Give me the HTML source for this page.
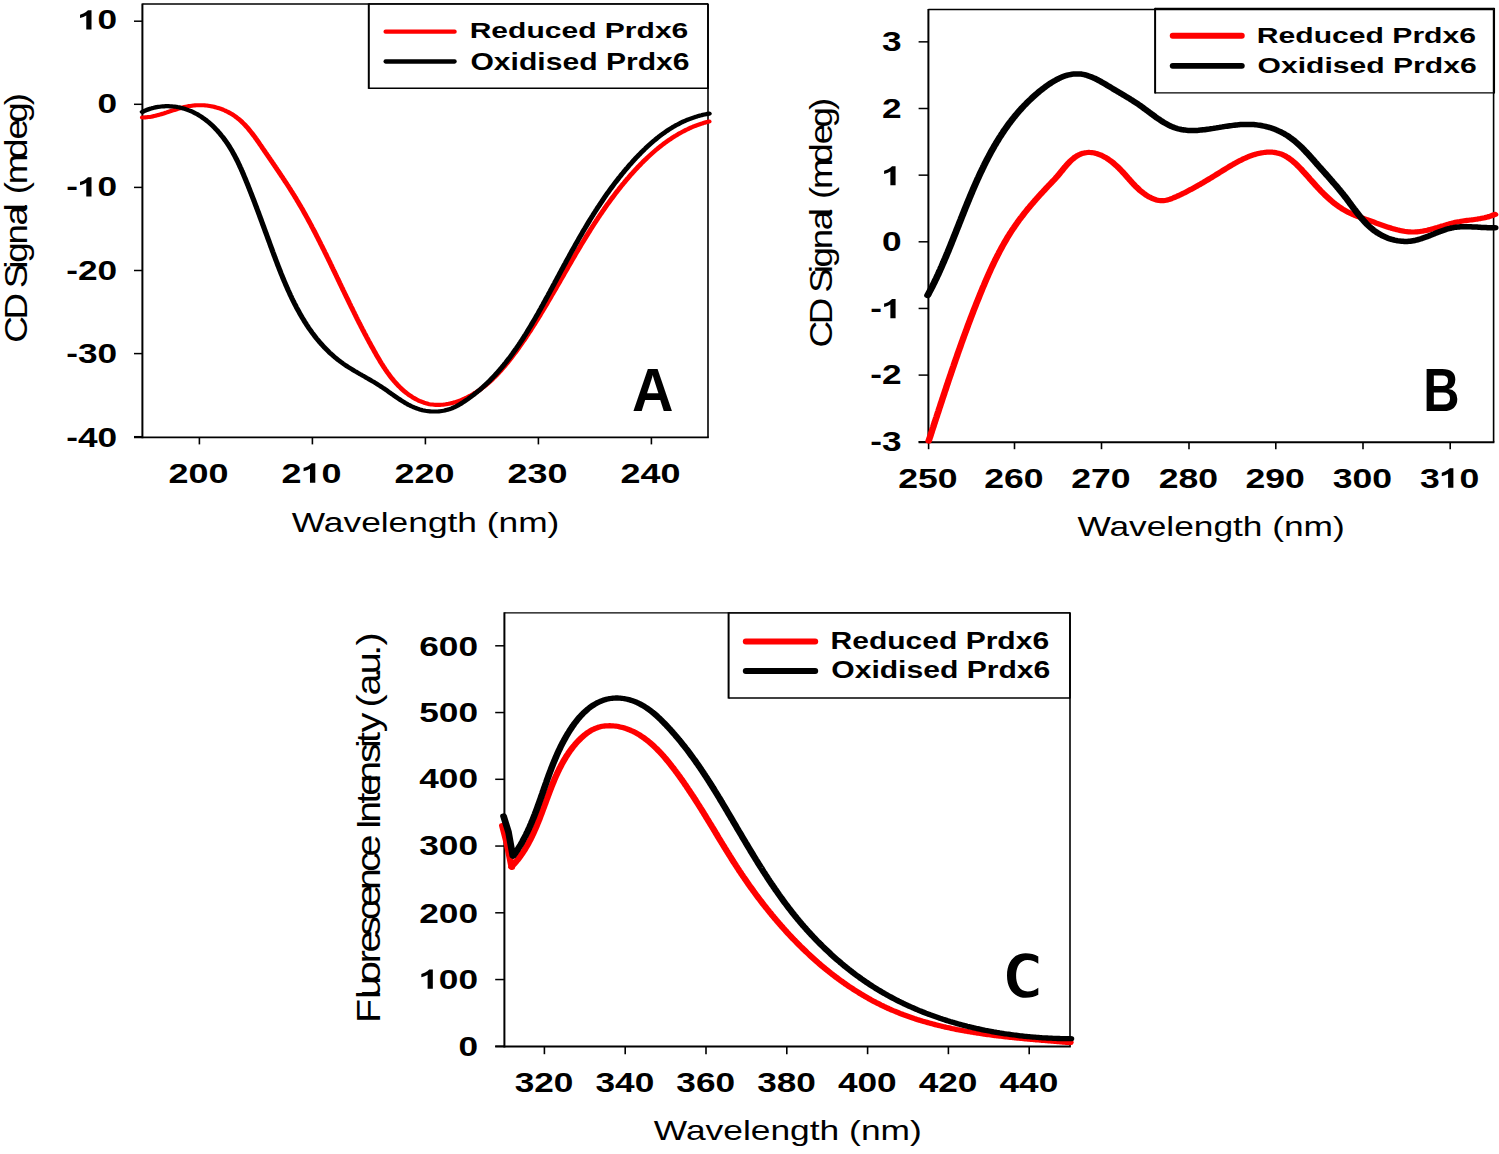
<!DOCTYPE html><html><head><meta charset="utf-8"><style>html,body{margin:0;padding:0;background:#fff;}svg{display:block}</style></head><body>
<svg width="1499" height="1154" viewBox="0 0 1499 1154">
<rect width="1499" height="1154" fill="#fff"/>
<line x1="142.4" y1="4" x2="708" y2="4" stroke="#000" stroke-width="1.3"/>
<line x1="708" y1="4" x2="708" y2="437.4" stroke="#000" stroke-width="1.6"/>
<line x1="142.4" y1="3.4" x2="142.4" y2="438.3" stroke="#000" stroke-width="2.0"/>
<line x1="134" y1="437.4" x2="708.8" y2="437.4" stroke="#000" stroke-width="1.9"/>
<line x1="134" y1="21.2" x2="142.4" y2="21.2" stroke="#000" stroke-width="1.5"/>
<line x1="134" y1="104.3" x2="142.4" y2="104.3" stroke="#000" stroke-width="1.5"/>
<line x1="134" y1="187.4" x2="142.4" y2="187.4" stroke="#000" stroke-width="1.5"/>
<line x1="134" y1="270.5" x2="142.4" y2="270.5" stroke="#000" stroke-width="1.5"/>
<line x1="134" y1="353.6" x2="142.4" y2="353.6" stroke="#000" stroke-width="1.5"/>
<line x1="134" y1="436.7" x2="142.4" y2="436.7" stroke="#000" stroke-width="1.5"/>
<line x1="199.4" y1="437.4" x2="199.4" y2="444.4" stroke="#000" stroke-width="1.6"/>
<line x1="312.4" y1="437.4" x2="312.4" y2="444.4" stroke="#000" stroke-width="1.6"/>
<line x1="425.4" y1="437.4" x2="425.4" y2="444.4" stroke="#000" stroke-width="1.6"/>
<line x1="538.4" y1="437.4" x2="538.4" y2="444.4" stroke="#000" stroke-width="1.6"/>
<line x1="651.4" y1="437.4" x2="651.4" y2="444.4" stroke="#000" stroke-width="1.6"/>
<path transform="scale(1.27,1)" d="M112.17,117.5 L113.30,117.5 L114.43,117.4 L115.56,117.3 L116.69,117.1 L117.82,116.9 L118.95,116.7 L120.08,116.4 L121.21,116.1 L122.34,115.8 L123.47,115.4 L124.60,115.0 L125.74,114.6 L126.87,114.2 L128.01,113.8 L129.15,113.3 L130.29,112.8 L131.43,112.4 L132.57,111.9 L133.72,111.4 L134.86,110.9 L136.01,110.4 L137.16,110.0 L138.32,109.5 L139.47,109.0 L140.63,108.6 L141.79,108.2 L142.95,107.8 L144.11,107.4 L145.27,107.0 L146.44,106.7 L147.60,106.4 L148.77,106.1 L149.94,105.9 L151.11,105.7 L152.28,105.5 L153.45,105.4 L154.62,105.3 L155.79,105.2 L156.96,105.2 L158.13,105.2 L159.29,105.3 L160.45,105.3 L161.61,105.4 L162.77,105.6 L163.92,105.8 L165.06,106.0 L166.20,106.2 L167.33,106.5 L168.46,106.8 L169.58,107.2 L170.69,107.6 L171.79,108.0 L172.88,108.4 L173.97,108.9 L175.04,109.4 L176.11,110.0 L177.16,110.5 L178.20,111.2 L179.23,111.8 L180.25,112.5 L181.26,113.2 L182.25,113.9 L183.23,114.7 L184.19,115.5 L185.14,116.3 L186.07,117.2 L186.98,118.1 L187.88,119.0 L188.77,119.9 L189.64,120.9 L190.49,121.9 L191.33,123.0 L192.15,124.0 L192.97,125.1 L193.77,126.2 L194.56,127.3 L195.34,128.4 L196.10,129.6 L196.86,130.8 L197.61,132.0 L198.35,133.2 L199.08,134.4 L199.81,135.6 L200.53,136.8 L201.24,138.1 L201.94,139.3 L202.64,140.6 L203.34,141.8 L204.04,143.1 L204.73,144.4 L205.41,145.6 L206.10,146.9 L206.79,148.2 L207.47,149.4 L208.15,150.7 L208.84,152.0 L209.52,153.2 L210.20,154.5 L210.88,155.7 L211.56,157.0 L212.23,158.2 L212.91,159.5 L213.58,160.7 L214.26,162.0 L214.93,163.2 L215.60,164.5 L216.27,165.7 L216.94,167.0 L217.60,168.2 L218.27,169.5 L218.93,170.7 L219.59,171.9 L220.25,173.2 L220.90,174.4 L221.56,175.7 L222.21,176.9 L222.86,178.2 L223.51,179.4 L224.15,180.7 L224.80,181.9 L225.44,183.1 L226.08,184.4 L226.71,185.6 L227.34,186.9 L227.98,188.1 L228.60,189.4 L229.23,190.7 L229.85,191.9 L230.47,193.2 L231.09,194.4 L231.70,195.7 L232.31,197.0 L232.92,198.2 L233.52,199.5 L234.13,200.8 L234.72,202.0 L235.32,203.3 L235.91,204.6 L236.50,205.9 L237.09,207.2 L237.67,208.4 L238.25,209.7 L238.83,211.0 L239.41,212.3 L239.98,213.6 L240.55,214.9 L241.12,216.2 L241.68,217.5 L242.25,218.8 L242.81,220.1 L243.37,221.4 L243.92,222.7 L244.48,224.0 L245.03,225.3 L245.58,226.7 L246.13,228.0 L246.67,229.3 L247.22,230.6 L247.76,231.9 L248.30,233.2 L248.84,234.6 L249.37,235.9 L249.91,237.2 L250.44,238.5 L250.98,239.9 L251.51,241.2 L252.03,242.5 L252.56,243.9 L253.09,245.2 L253.61,246.5 L254.14,247.9 L254.66,249.2 L255.18,250.5 L255.70,251.9 L256.22,253.2 L256.74,254.6 L257.26,255.9 L257.77,257.3 L258.29,258.6 L258.80,259.9 L259.32,261.3 L259.83,262.6 L260.34,264.0 L260.86,265.3 L261.37,266.7 L261.88,268.0 L262.39,269.4 L262.90,270.7 L263.41,272.1 L263.92,273.4 L264.43,274.8 L264.94,276.1 L265.45,277.5 L265.96,278.8 L266.47,280.2 L266.97,281.5 L267.48,282.9 L267.99,284.2 L268.50,285.6 L269.01,287.0 L269.52,288.3 L270.03,289.7 L270.54,291.0 L271.06,292.4 L271.57,293.7 L272.08,295.1 L272.59,296.4 L273.11,297.8 L273.62,299.1 L274.14,300.5 L274.65,301.8 L275.17,303.2 L275.69,304.5 L276.21,305.9 L276.73,307.2 L277.25,308.6 L277.77,309.9 L278.29,311.3 L278.82,312.6 L279.34,314.0 L279.87,315.3 L280.40,316.7 L280.93,318.0 L281.46,319.4 L281.99,320.7 L282.53,322.1 L283.07,323.4 L283.60,324.7 L284.14,326.1 L284.69,327.4 L285.23,328.8 L285.77,330.1 L286.32,331.4 L286.87,332.8 L287.42,334.1 L287.98,335.4 L288.53,336.8 L289.09,338.1 L289.65,339.4 L290.21,340.8 L290.78,342.1 L291.34,343.4 L291.91,344.7 L292.49,346.1 L293.06,347.4 L293.64,348.7 L294.22,350.0 L294.80,351.3 L295.39,352.7 L295.98,354.0 L296.57,355.3 L297.16,356.6 L297.76,357.9 L298.37,359.2 L298.98,360.5 L299.59,361.8 L300.21,363.1 L300.84,364.3 L301.47,365.6 L302.11,366.9 L302.76,368.1 L303.42,369.4 L304.08,370.6 L304.75,371.9 L305.43,373.1 L306.13,374.3 L306.83,375.5 L307.54,376.7 L308.26,377.9 L309.00,379.0 L309.75,380.2 L310.51,381.3 L311.28,382.4 L312.06,383.5 L312.86,384.6 L313.67,385.7 L314.50,386.8 L315.34,387.8 L316.20,388.8 L317.07,389.8 L317.96,390.8 L318.86,391.8 L319.77,392.7 L320.70,393.6 L321.64,394.5 L322.60,395.4 L323.57,396.2 L324.55,397.0 L325.54,397.8 L326.55,398.5 L327.56,399.2 L328.59,399.9 L329.63,400.6 L330.69,401.2 L331.75,401.7 L332.82,402.2 L333.90,402.7 L335.00,403.1 L336.10,403.5 L337.21,403.9 L338.33,404.2 L339.46,404.4 L340.60,404.6 L341.75,404.8 L342.90,404.9 L344.06,404.9 L345.23,404.9 L346.40,404.9 L347.57,404.8 L348.74,404.7 L349.92,404.5 L351.09,404.3 L352.27,404.0 L353.44,403.8 L354.62,403.4 L355.78,403.1 L356.95,402.7 L358.11,402.3 L359.26,401.8 L360.41,401.3 L361.54,400.8 L362.67,400.3 L363.79,399.7 L364.90,399.1 L365.99,398.5 L367.07,397.9 L368.15,397.2 L369.20,396.5 L370.25,395.8 L371.28,395.1 L372.30,394.3 L373.31,393.5 L374.31,392.8 L375.30,391.9 L376.27,391.1 L377.24,390.3 L378.19,389.4 L379.14,388.5 L380.07,387.6 L381.00,386.7 L381.91,385.8 L382.81,384.8 L383.71,383.9 L384.59,382.9 L385.47,381.9 L386.34,380.9 L387.19,379.9 L388.04,378.8 L388.88,377.8 L389.72,376.7 L390.54,375.7 L391.36,374.6 L392.17,373.5 L392.97,372.4 L393.76,371.3 L394.55,370.2 L395.33,369.0 L396.11,367.9 L396.87,366.8 L397.64,365.6 L398.39,364.4 L399.14,363.3 L399.88,362.1 L400.62,360.9 L401.35,359.8 L402.08,358.6 L402.80,357.4 L403.52,356.2 L404.23,355.0 L404.94,353.8 L405.65,352.6 L406.35,351.4 L407.04,350.2 L407.74,349.0 L408.42,347.7 L409.11,346.5 L409.79,345.3 L410.46,344.1 L411.13,342.8 L411.80,341.6 L412.47,340.4 L413.13,339.2 L413.79,337.9 L414.44,336.7 L415.09,335.4 L415.74,334.2 L416.39,332.9 L417.03,331.7 L417.67,330.5 L418.31,329.2 L418.94,327.9 L419.57,326.7 L420.20,325.4 L420.83,324.2 L421.45,322.9 L422.07,321.6 L422.69,320.4 L423.31,319.1 L423.93,317.8 L424.54,316.6 L425.15,315.3 L425.76,314.0 L426.37,312.7 L426.97,311.5 L427.58,310.2 L428.18,308.9 L428.78,307.6 L429.38,306.3 L429.98,305.1 L430.58,303.8 L431.18,302.5 L431.77,301.2 L432.37,299.9 L432.96,298.6 L433.56,297.3 L434.15,296.0 L434.74,294.7 L435.33,293.5 L435.92,292.2 L436.51,290.9 L437.10,289.6 L437.69,288.3 L438.28,287.0 L438.87,285.7 L439.46,284.4 L440.05,283.1 L440.64,281.8 L441.23,280.5 L441.81,279.2 L442.40,277.9 L442.99,276.6 L443.58,275.3 L444.17,274.0 L444.76,272.7 L445.35,271.4 L445.94,270.1 L446.53,268.8 L447.12,267.5 L447.71,266.2 L448.30,264.9 L448.89,263.6 L449.49,262.3 L450.08,261.0 L450.68,259.7 L451.27,258.4 L451.87,257.1 L452.47,255.8 L453.06,254.5 L453.66,253.2 L454.26,251.9 L454.87,250.7 L455.47,249.4 L456.07,248.1 L456.68,246.8 L457.29,245.5 L457.90,244.2 L458.51,242.9 L459.12,241.7 L459.73,240.4 L460.35,239.1 L460.96,237.8 L461.58,236.5 L462.20,235.3 L462.82,234.0 L463.45,232.7 L464.07,231.5 L464.70,230.2 L465.33,228.9 L465.96,227.7 L466.60,226.4 L467.23,225.1 L467.87,223.9 L468.51,222.6 L469.16,221.4 L469.80,220.1 L470.45,218.9 L471.10,217.6 L471.76,216.4 L472.41,215.1 L473.07,213.9 L473.73,212.7 L474.40,211.4 L475.07,210.2 L475.74,209.0 L476.41,207.7 L477.09,206.5 L477.77,205.3 L478.45,204.1 L479.14,202.9 L479.83,201.7 L480.52,200.5 L481.22,199.3 L481.92,198.1 L482.62,196.9 L483.33,195.7 L484.04,194.5 L484.75,193.3 L485.47,192.1 L486.19,190.9 L486.91,189.8 L487.64,188.6 L488.38,187.4 L489.11,186.2 L489.85,185.1 L490.60,183.9 L491.35,182.8 L492.10,181.6 L492.86,180.5 L493.62,179.3 L494.39,178.2 L495.16,177.1 L495.93,175.9 L496.71,174.8 L497.49,173.7 L498.28,172.6 L499.08,171.5 L499.87,170.4 L500.68,169.3 L501.48,168.2 L502.30,167.1 L503.11,166.0 L503.94,164.9 L504.76,163.8 L505.60,162.8 L506.43,161.7 L507.28,160.7 L508.12,159.6 L508.98,158.6 L509.84,157.5 L510.70,156.5 L511.57,155.5 L512.44,154.5 L513.32,153.5 L514.21,152.5 L515.10,151.5 L516.00,150.5 L516.90,149.5 L517.81,148.6 L518.72,147.6 L519.64,146.7 L520.57,145.8 L521.50,144.9 L522.44,144.0 L523.38,143.1 L524.33,142.2 L525.29,141.3 L526.25,140.4 L527.22,139.6 L528.19,138.8 L529.17,137.9 L530.16,137.1 L531.15,136.3 L532.15,135.6 L533.16,134.8 L534.17,134.0 L535.19,133.3 L536.22,132.6 L537.25,131.9 L538.29,131.2 L539.34,130.5 L540.39,129.8 L541.45,129.2 L542.52,128.5 L543.59,127.9 L544.67,127.3 L545.76,126.7 L546.86,126.2 L547.96,125.6 L549.07,125.1 L550.18,124.6 L551.31,124.1 L552.44,123.6 L553.58,123.2 L554.73,122.7 L555.88,122.3 L557.04,121.9 L558.21,121.5" fill="none" stroke="#ff0000" stroke-width="4.1" stroke-linejoin="round" stroke-linecap="round"/>
<path transform="scale(1.27,1)" d="M112.13,111.9 L113.21,111.2 L114.31,110.6 L115.41,110.0 L116.53,109.5 L117.65,109.0 L118.79,108.6 L119.93,108.1 L121.08,107.8 L122.23,107.4 L123.39,107.1 L124.56,106.9 L125.73,106.7 L126.90,106.5 L128.07,106.4 L129.25,106.3 L130.43,106.2 L131.60,106.2 L132.78,106.2 L133.95,106.3 L135.13,106.3 L136.30,106.5 L137.46,106.6 L138.62,106.8 L139.78,107.1 L140.93,107.3 L142.07,107.7 L143.20,108.0 L144.33,108.4 L145.44,108.8 L146.55,109.3 L147.65,109.8 L148.73,110.3 L149.81,110.8 L150.87,111.4 L151.93,112.0 L152.97,112.7 L154.01,113.4 L155.03,114.1 L156.04,114.8 L157.04,115.6 L158.03,116.4 L159.01,117.2 L159.97,118.1 L160.93,118.9 L161.87,119.8 L162.80,120.8 L163.72,121.7 L164.63,122.7 L165.52,123.7 L166.41,124.7 L167.28,125.7 L168.14,126.7 L168.98,127.8 L169.82,128.9 L170.64,130.0 L171.45,131.1 L172.24,132.3 L173.02,133.4 L173.79,134.6 L174.55,135.8 L175.29,136.9 L176.02,138.1 L176.73,139.4 L177.43,140.6 L178.12,141.8 L178.79,143.1 L179.45,144.3 L180.10,145.6 L180.74,146.8 L181.36,148.1 L181.97,149.4 L182.57,150.7 L183.16,152.0 L183.74,153.3 L184.30,154.6 L184.86,155.9 L185.41,157.3 L185.95,158.6 L186.48,159.9 L187.00,161.3 L187.51,162.6 L188.02,164.0 L188.52,165.3 L189.01,166.7 L189.50,168.0 L189.98,169.4 L190.45,170.8 L190.92,172.1 L191.38,173.5 L191.84,174.9 L192.30,176.3 L192.75,177.7 L193.19,179.0 L193.64,180.4 L194.08,181.8 L194.52,183.2 L194.96,184.5 L195.40,185.9 L195.83,187.3 L196.26,188.7 L196.69,190.1 L197.12,191.5 L197.55,192.8 L197.97,194.2 L198.39,195.6 L198.82,197.0 L199.24,198.4 L199.65,199.7 L200.07,201.1 L200.49,202.5 L200.90,203.9 L201.32,205.3 L201.73,206.7 L202.14,208.1 L202.55,209.5 L202.96,210.8 L203.37,212.2 L203.78,213.6 L204.18,215.0 L204.59,216.4 L205.00,217.8 L205.40,219.2 L205.81,220.6 L206.21,222.0 L206.62,223.4 L207.02,224.8 L207.43,226.2 L207.83,227.6 L208.23,229.0 L208.64,230.4 L209.04,231.8 L209.45,233.2 L209.85,234.6 L210.26,236.0 L210.66,237.4 L211.07,238.8 L211.47,240.2 L211.88,241.6 L212.28,243.0 L212.69,244.5 L213.10,245.9 L213.51,247.3 L213.92,248.7 L214.33,250.1 L214.74,251.6 L215.16,253.0 L215.57,254.4 L215.99,255.8 L216.41,257.2 L216.83,258.7 L217.25,260.1 L217.67,261.5 L218.10,262.9 L218.53,264.4 L218.96,265.8 L219.39,267.2 L219.82,268.6 L220.26,270.0 L220.70,271.4 L221.14,272.9 L221.59,274.3 L222.04,275.7 L222.49,277.1 L222.94,278.5 L223.40,279.9 L223.86,281.3 L224.33,282.7 L224.80,284.1 L225.27,285.5 L225.75,286.9 L226.23,288.3 L226.71,289.7 L227.20,291.0 L227.69,292.4 L228.19,293.8 L228.69,295.2 L229.20,296.5 L229.71,297.9 L230.22,299.2 L230.74,300.6 L231.27,301.9 L231.80,303.3 L232.34,304.6 L232.88,305.9 L233.42,307.3 L233.98,308.6 L234.53,309.9 L235.10,311.2 L235.67,312.5 L236.24,313.8 L236.82,315.1 L237.41,316.4 L238.00,317.7 L238.60,318.9 L239.21,320.2 L239.82,321.5 L240.44,322.7 L241.07,324.0 L241.70,325.2 L242.34,326.4 L242.99,327.7 L243.65,328.9 L244.31,330.1 L244.98,331.3 L245.66,332.5 L246.34,333.6 L247.03,334.8 L247.73,336.0 L248.44,337.1 L249.16,338.3 L249.88,339.4 L250.62,340.5 L251.36,341.6 L252.11,342.8 L252.87,343.9 L253.64,344.9 L254.41,346.0 L255.20,347.1 L255.99,348.1 L256.79,349.2 L257.61,350.2 L258.43,351.2 L259.26,352.3 L260.10,353.3 L260.95,354.2 L261.81,355.2 L262.68,356.2 L263.56,357.1 L264.45,358.1 L265.35,359.0 L266.26,359.9 L267.18,360.8 L268.12,361.7 L269.06,362.6 L270.01,363.5 L270.98,364.3 L271.95,365.2 L272.93,366.0 L273.93,366.8 L274.93,367.6 L275.94,368.4 L276.96,369.2 L277.98,370.0 L279.01,370.8 L280.05,371.6 L281.09,372.3 L282.13,373.1 L283.18,373.9 L284.23,374.6 L285.28,375.4 L286.34,376.1 L287.39,376.9 L288.45,377.7 L289.50,378.4 L290.56,379.2 L291.61,380.0 L292.66,380.8 L293.71,381.6 L294.76,382.3 L295.80,383.1 L296.84,384.0 L297.87,384.8 L298.89,385.6 L299.91,386.5 L300.92,387.3 L301.93,388.2 L302.93,389.0 L303.93,389.9 L304.92,390.8 L305.91,391.7 L306.90,392.6 L307.89,393.5 L308.87,394.4 L309.85,395.2 L310.84,396.1 L311.82,397.0 L312.81,397.8 L313.79,398.7 L314.78,399.5 L315.77,400.3 L316.77,401.1 L317.77,401.9 L318.78,402.7 L319.79,403.4 L320.81,404.2 L321.83,404.9 L322.86,405.5 L323.91,406.2 L324.96,406.8 L326.02,407.4 L327.08,407.9 L328.17,408.5 L329.26,408.9 L330.36,409.4 L331.48,409.8 L332.61,410.2 L333.75,410.5 L334.90,410.8 L336.06,411.0 L337.22,411.2 L338.39,411.3 L339.57,411.5 L340.75,411.5 L341.93,411.5 L343.11,411.5 L344.29,411.5 L345.47,411.4 L346.65,411.2 L347.82,411.0 L348.98,410.8 L350.14,410.5 L351.29,410.1 L352.43,409.7 L353.56,409.3 L354.68,408.8 L355.78,408.3 L356.87,407.7 L357.94,407.1 L359.00,406.5 L360.05,405.8 L361.09,405.0 L362.11,404.3 L363.12,403.5 L364.13,402.7 L365.12,401.9 L366.11,401.0 L367.09,400.2 L368.06,399.3 L369.02,398.5 L369.97,397.6 L370.92,396.7 L371.86,395.8 L372.79,394.9 L373.71,394.0 L374.62,393.1 L375.53,392.2 L376.43,391.2 L377.33,390.3 L378.21,389.3 L379.09,388.3 L379.96,387.4 L380.83,386.4 L381.68,385.4 L382.53,384.4 L383.38,383.4 L384.22,382.3 L385.05,381.3 L385.87,380.3 L386.69,379.2 L387.50,378.1 L388.31,377.1 L389.11,376.0 L389.90,374.9 L390.69,373.8 L391.47,372.7 L392.24,371.6 L393.01,370.5 L393.78,369.4 L394.53,368.3 L395.29,367.1 L396.03,366.0 L396.77,364.9 L397.51,363.7 L398.24,362.6 L398.97,361.4 L399.69,360.2 L400.41,359.0 L401.12,357.9 L401.82,356.7 L402.52,355.5 L403.22,354.3 L403.91,353.1 L404.60,351.8 L405.28,350.6 L405.96,349.4 L406.64,348.2 L407.31,346.9 L407.98,345.7 L408.64,344.5 L409.30,343.2 L409.95,342.0 L410.60,340.7 L411.25,339.5 L411.89,338.2 L412.53,336.9 L413.17,335.6 L413.80,334.4 L414.43,333.1 L415.06,331.8 L415.68,330.5 L416.30,329.2 L416.92,327.9 L417.54,326.6 L418.15,325.3 L418.76,324.0 L419.36,322.7 L419.97,321.4 L420.57,320.1 L421.17,318.8 L421.76,317.5 L422.36,316.2 L422.95,314.9 L423.54,313.6 L424.13,312.2 L424.71,310.9 L425.30,309.6 L425.88,308.3 L426.46,306.9 L427.04,305.6 L427.62,304.3 L428.19,302.9 L428.77,301.6 L429.34,300.3 L429.92,298.9 L430.49,297.6 L431.06,296.3 L431.63,295.0 L432.19,293.6 L432.76,292.3 L433.33,291.0 L433.89,289.6 L434.46,288.3 L435.02,287.0 L435.59,285.6 L436.15,284.3 L436.72,283.0 L437.28,281.6 L437.84,280.3 L438.40,279.0 L438.97,277.6 L439.53,276.3 L440.09,275.0 L440.65,273.7 L441.22,272.3 L441.78,271.0 L442.34,269.7 L442.90,268.4 L443.47,267.0 L444.03,265.7 L444.59,264.4 L445.16,263.1 L445.72,261.7 L446.29,260.4 L446.85,259.1 L447.42,257.8 L447.99,256.5 L448.55,255.2 L449.12,253.8 L449.69,252.5 L450.26,251.2 L450.83,249.9 L451.41,248.6 L451.98,247.3 L452.56,246.0 L453.13,244.7 L453.71,243.4 L454.29,242.1 L454.87,240.8 L455.45,239.5 L456.03,238.2 L456.62,236.9 L457.20,235.6 L457.79,234.3 L458.38,233.0 L458.97,231.7 L459.57,230.4 L460.16,229.1 L460.76,227.9 L461.36,226.6 L461.96,225.3 L462.56,224.0 L463.17,222.8 L463.77,221.5 L464.38,220.2 L465.00,218.9 L465.61,217.7 L466.23,216.4 L466.85,215.2 L467.47,213.9 L468.10,212.6 L468.72,211.4 L469.35,210.1 L469.99,208.9 L470.62,207.6 L471.26,206.4 L471.90,205.2 L472.55,203.9 L473.20,202.7 L473.85,201.5 L474.50,200.2 L475.16,199.0 L475.82,197.8 L476.48,196.6 L477.15,195.3 L477.82,194.1 L478.50,192.9 L479.18,191.7 L479.86,190.5 L480.54,189.3 L481.23,188.1 L481.93,186.9 L482.62,185.7 L483.32,184.5 L484.03,183.3 L484.74,182.1 L485.45,181.0 L486.17,179.8 L486.89,178.6 L487.61,177.4 L488.34,176.3 L489.08,175.1 L489.82,173.9 L490.56,172.8 L491.31,171.6 L492.06,170.5 L492.82,169.3 L493.58,168.2 L494.35,167.1 L495.12,165.9 L495.89,164.8 L496.67,163.7 L497.46,162.6 L498.25,161.4 L499.05,160.3 L499.85,159.2 L500.66,158.1 L501.47,157.0 L502.28,155.9 L503.11,154.8 L503.93,153.8 L504.77,152.7 L505.61,151.6 L506.45,150.6 L507.30,149.5 L508.16,148.5 L509.02,147.4 L509.89,146.4 L510.76,145.4 L511.64,144.4 L512.53,143.4 L513.42,142.4 L514.32,141.4 L515.22,140.4 L516.13,139.5 L517.05,138.5 L517.97,137.6 L518.90,136.6 L519.84,135.7 L520.78,134.8 L521.73,133.9 L522.68,133.1 L523.65,132.2 L524.61,131.3 L525.59,130.5 L526.57,129.7 L527.56,128.9 L528.56,128.1 L529.56,127.3 L530.58,126.6 L531.59,125.8 L532.62,125.1 L533.65,124.4 L534.69,123.7 L535.74,123.0 L536.79,122.3 L537.86,121.7 L538.93,121.1 L540.00,120.5 L541.09,119.9 L542.18,119.3 L543.28,118.8 L544.39,118.3 L545.51,117.8 L546.63,117.3 L547.77,116.8 L548.91,116.4 L550.06,115.9 L551.21,115.5 L552.38,115.2 L553.55,114.8 L554.74,114.5 L555.93,114.2 L557.12,113.9 L558.33,113.6" fill="none" stroke="#000000" stroke-width="4.2" stroke-linejoin="round" stroke-linecap="round"/>
<line x1="368.8" y1="3.9" x2="708" y2="3.9" stroke="#000" stroke-width="1.3"/>
<line x1="368.8" y1="88.3" x2="708" y2="88.3" stroke="#000" stroke-width="1.4"/>
<line x1="368.8" y1="3.4" x2="368.8" y2="88.9" stroke="#000" stroke-width="2.0"/>
<line x1="708" y1="3.4" x2="708" y2="88.9" stroke="#000" stroke-width="1.7"/>
<line x1="385.6" y1="31.7" x2="454.6" y2="31.7" stroke="#ff0000" stroke-width="4.3" stroke-linecap="round"/>
<line x1="385.6" y1="61.5" x2="454.6" y2="61.5" stroke="#000000" stroke-width="4.3" stroke-linecap="round"/>
<g transform="matrix(1.2850,0,0,1,77.98,29.43)"><path transform="matrix(27.401,0,0,-27.401,0.00,0)" fill="#000" d="M0.384,0 L0.236,0 L0.236,0.505 C0.185,0.46 0.125,0.432 0.058,0.414 L0.058,0.536 C0.105,0.552 0.16,0.58 0.2,0.615 C0.24,0.65 0.268,0.683 0.282,0.7 L0.384,0.7 Z"/><text x="15.24" y="0" font-family='"Liberation Sans", sans-serif' font-weight="bold" font-size="27.40" fill="#000">0</text></g>
<text transform="matrix(1.2850,0,0,1,97.56,112.93)" font-family='"Liberation Sans", sans-serif' font-weight="bold" font-size="27.40" fill="#000" >0</text>
<g transform="matrix(1.2850,0,0,1,66.26,196.48)"><text x="0.00" y="0" font-family='"Liberation Sans", sans-serif' font-weight="bold" font-size="27.40" fill="#000">-</text><path transform="matrix(27.401,0,0,-27.401,9.12,0)" fill="#000" d="M0.384,0 L0.236,0 L0.236,0.505 C0.185,0.46 0.125,0.432 0.058,0.414 L0.058,0.536 C0.105,0.552 0.16,0.58 0.2,0.615 C0.24,0.65 0.268,0.683 0.282,0.7 L0.384,0.7 Z"/><text x="24.36" y="0" font-family='"Liberation Sans", sans-serif' font-weight="bold" font-size="27.40" fill="#000">0</text></g>
<text transform="matrix(1.2850,0,0,1,66.26,279.93)" font-family='"Liberation Sans", sans-serif' font-weight="bold" font-size="27.40" fill="#000" >-20</text>
<text transform="matrix(1.2850,0,0,1,66.26,363.25)" font-family='"Liberation Sans", sans-serif' font-weight="bold" font-size="27.40" fill="#000" >-30</text>
<text transform="matrix(1.2850,0,0,1,66.26,447.23)" font-family='"Liberation Sans", sans-serif' font-weight="bold" font-size="27.40" fill="#000" >-40</text>
<text transform="matrix(1.2850,0,0,1,168.52,482.83)" font-family='"Liberation Sans", sans-serif' font-weight="bold" font-size="27.97" fill="#000" >200</text>
<g transform="matrix(1.2850,0,0,1,281.52,482.83)"><text x="0.00" y="0" font-family='"Liberation Sans", sans-serif' font-weight="bold" font-size="27.97" fill="#000">2</text><path transform="matrix(27.966,0,0,-27.966,15.55,0)" fill="#000" d="M0.384,0 L0.236,0 L0.236,0.505 C0.185,0.46 0.125,0.432 0.058,0.414 L0.058,0.536 C0.105,0.552 0.16,0.58 0.2,0.615 C0.24,0.65 0.268,0.683 0.282,0.7 L0.384,0.7 Z"/><text x="31.11" y="0" font-family='"Liberation Sans", sans-serif' font-weight="bold" font-size="27.97" fill="#000">0</text></g>
<text transform="matrix(1.2850,0,0,1,394.52,482.83)" font-family='"Liberation Sans", sans-serif' font-weight="bold" font-size="27.97" fill="#000" >220</text>
<text transform="matrix(1.2850,0,0,1,507.52,482.83)" font-family='"Liberation Sans", sans-serif' font-weight="bold" font-size="27.97" fill="#000" >230</text>
<text transform="matrix(1.2850,0,0,1,620.52,482.83)" font-family='"Liberation Sans", sans-serif' font-weight="bold" font-size="27.97" fill="#000" >240</text>
<text transform="matrix(1.2425,0,0,1,291.84,531.80)" font-family='"Liberation Sans", sans-serif' font-weight="normal" font-size="28.43" fill="#000" >Wavelength (nm)</text>
<text transform="matrix(1.3364,0,0,1,469.69,38.28)" font-family='"Liberation Sans", sans-serif' font-weight="bold" font-size="22.47" fill="#000" >Reduced Prdx6</text>
<text transform="matrix(1.2850,0,0,1,470.47,69.67)" font-family='"Liberation Sans", sans-serif' font-weight="bold" font-size="23.42" fill="#000" >Oxidised Prdx6</text>
<text transform="matrix(0.9400,0,0,1,631.97,410.60)" font-family='"Liberation Sans", sans-serif' font-weight="bold" font-size="61.05" fill="#000" >A</text>
<text transform="matrix(0,-1.1500,1,0,27.30,341.00)" x="-1.62 18.59 45.94 62.90 67.96 83.96 100.38 112.63 127.58 136.31 158.22 175.25 189.70 205.03" y="0" font-family='"Liberation Sans", sans-serif' font-size="32.00" fill="#000">CDSignal(mdeg)</text>
<line x1="928.4" y1="9.5" x2="1493.6" y2="9.5" stroke="#000" stroke-width="1.3"/>
<line x1="1493.6" y1="9.5" x2="1493.6" y2="442.2" stroke="#000" stroke-width="1.6"/>
<line x1="928.4" y1="8.9" x2="928.4" y2="443.1" stroke="#000" stroke-width="2.0"/>
<line x1="918.6" y1="442.2" x2="1494.4" y2="442.2" stroke="#000" stroke-width="1.9"/>
<line x1="918.6" y1="41.85" x2="928.4" y2="41.85" stroke="#000" stroke-width="1.5"/>
<line x1="918.6" y1="108.5" x2="928.4" y2="108.5" stroke="#000" stroke-width="1.5"/>
<line x1="918.6" y1="175.15" x2="928.4" y2="175.15" stroke="#000" stroke-width="1.5"/>
<line x1="918.6" y1="241.8" x2="928.4" y2="241.8" stroke="#000" stroke-width="1.5"/>
<line x1="918.6" y1="308.45" x2="928.4" y2="308.45" stroke="#000" stroke-width="1.5"/>
<line x1="918.6" y1="375.1" x2="928.4" y2="375.1" stroke="#000" stroke-width="1.5"/>
<line x1="918.6" y1="441.75" x2="928.4" y2="441.75" stroke="#000" stroke-width="1.5"/>
<line x1="928.6" y1="442.2" x2="928.6" y2="449.2" stroke="#000" stroke-width="1.6"/>
<line x1="1014.5" y1="442.2" x2="1014.5" y2="449.2" stroke="#000" stroke-width="1.6"/>
<line x1="1101.5" y1="442.2" x2="1101.5" y2="449.2" stroke="#000" stroke-width="1.6"/>
<line x1="1189" y1="442.2" x2="1189" y2="449.2" stroke="#000" stroke-width="1.6"/>
<line x1="1275.8" y1="442.2" x2="1275.8" y2="449.2" stroke="#000" stroke-width="1.6"/>
<line x1="1363" y1="442.2" x2="1363" y2="449.2" stroke="#000" stroke-width="1.6"/>
<line x1="1450.2" y1="442.2" x2="1450.2" y2="449.2" stroke="#000" stroke-width="1.6"/>
<path transform="scale(1.27,1)" d="M731.23,441.0 L731.59,439.6 L731.96,438.2 L732.33,436.8 L732.70,435.3 L733.06,433.9 L733.43,432.5 L733.80,431.0 L734.16,429.6 L734.53,428.2 L734.90,426.8 L735.26,425.3 L735.63,423.9 L736.00,422.5 L736.36,421.0 L736.73,419.6 L737.10,418.2 L737.47,416.8 L737.83,415.3 L738.20,413.9 L738.57,412.5 L738.94,411.1 L739.30,409.6 L739.67,408.2 L740.04,406.8 L740.41,405.4 L740.78,403.9 L741.15,402.5 L741.52,401.1 L741.89,399.7 L742.26,398.2 L742.63,396.8 L743.00,395.4 L743.37,394.0 L743.74,392.5 L744.11,391.1 L744.49,389.7 L744.86,388.3 L745.23,386.8 L745.61,385.4 L745.98,384.0 L746.36,382.6 L746.73,381.2 L747.11,379.7 L747.48,378.3 L747.86,376.9 L748.24,375.5 L748.62,374.1 L749.00,372.6 L749.38,371.2 L749.76,369.8 L750.14,368.4 L750.52,367.0 L750.91,365.6 L751.29,364.1 L751.67,362.7 L752.06,361.3 L752.44,359.9 L752.83,358.5 L753.22,357.1 L753.61,355.7 L754.00,354.2 L754.39,352.8 L754.78,351.4 L755.17,350.0 L755.57,348.6 L755.96,347.2 L756.36,345.8 L756.75,344.4 L757.15,342.9 L757.55,341.5 L757.95,340.1 L758.35,338.7 L758.75,337.3 L759.15,335.9 L759.56,334.5 L759.96,333.1 L760.37,331.7 L760.78,330.3 L761.19,328.9 L761.60,327.5 L762.01,326.0 L762.42,324.6 L762.84,323.2 L763.25,321.8 L763.67,320.4 L764.09,319.0 L764.51,317.6 L764.93,316.2 L765.35,314.8 L765.77,313.4 L766.20,312.0 L766.62,310.6 L767.05,309.2 L767.48,307.8 L767.91,306.4 L768.35,305.0 L768.78,303.6 L769.21,302.2 L769.65,300.9 L770.09,299.5 L770.53,298.1 L770.97,296.7 L771.42,295.3 L771.86,293.9 L772.31,292.5 L772.76,291.1 L773.21,289.7 L773.66,288.3 L774.12,286.9 L774.58,285.6 L775.04,284.2 L775.50,282.8 L775.96,281.4 L776.43,280.0 L776.90,278.6 L777.37,277.3 L777.85,275.9 L778.33,274.5 L778.81,273.1 L779.29,271.8 L779.78,270.4 L780.28,269.0 L780.77,267.7 L781.27,266.3 L781.77,265.0 L782.28,263.6 L782.79,262.2 L783.31,260.9 L783.83,259.5 L784.35,258.2 L784.88,256.9 L785.42,255.5 L785.95,254.2 L786.50,252.9 L787.04,251.5 L787.60,250.2 L788.15,248.9 L788.72,247.6 L789.29,246.3 L789.86,245.0 L790.44,243.7 L791.02,242.4 L791.61,241.1 L792.21,239.8 L792.81,238.5 L793.42,237.2 L794.04,235.9 L794.66,234.7 L795.28,233.4 L795.92,232.1 L796.56,230.9 L797.21,229.6 L797.86,228.4 L798.52,227.2 L799.19,225.9 L799.86,224.7 L800.54,223.5 L801.23,222.3 L801.92,221.0 L802.62,219.8 L803.33,218.6 L804.04,217.4 L804.75,216.3 L805.47,215.1 L806.20,213.9 L806.93,212.7 L807.67,211.5 L808.41,210.4 L809.15,209.2 L809.90,208.0 L810.66,206.9 L811.42,205.7 L812.18,204.6 L812.94,203.5 L813.71,202.3 L814.49,201.2 L815.26,200.1 L816.04,198.9 L816.83,197.8 L817.61,196.7 L818.40,195.6 L819.19,194.5 L819.99,193.4 L820.78,192.3 L821.58,191.2 L822.38,190.1 L823.19,189.0 L823.99,187.9 L824.80,186.8 L825.60,185.7 L826.41,184.6 L827.22,183.6 L828.03,182.5 L828.84,181.4 L829.65,180.3 L830.45,179.3 L831.24,178.2 L832.02,177.0 L832.79,175.9 L833.56,174.8 L834.31,173.6 L835.07,172.4 L835.82,171.3 L836.57,170.1 L837.33,168.9 L838.10,167.7 L838.87,166.6 L839.66,165.4 L840.46,164.2 L841.28,163.1 L842.12,162.0 L842.98,160.9 L843.86,159.9 L844.77,158.9 L845.70,157.9 L846.65,157.0 L847.63,156.2 L848.64,155.4 L849.67,154.8 L850.73,154.2 L851.80,153.7 L852.89,153.2 L853.99,152.9 L855.10,152.7 L856.22,152.5 L857.33,152.4 L858.45,152.5 L859.57,152.6 L860.69,152.8 L861.81,153.1 L862.92,153.4 L864.03,153.8 L865.13,154.3 L866.23,154.8 L867.32,155.4 L868.40,156.1 L869.46,156.8 L870.52,157.5 L871.56,158.3 L872.59,159.2 L873.60,160.1 L874.59,161.0 L875.56,161.9 L876.52,162.9 L877.45,163.9 L878.36,164.9 L879.25,165.9 L880.12,167.0 L880.97,168.0 L881.81,169.1 L882.64,170.2 L883.45,171.3 L884.25,172.4 L885.04,173.5 L885.83,174.6 L886.61,175.7 L887.39,176.8 L888.17,178.0 L888.95,179.1 L889.73,180.2 L890.52,181.3 L891.31,182.4 L892.11,183.5 L892.92,184.6 L893.74,185.7 L894.58,186.8 L895.43,187.8 L896.30,188.8 L897.18,189.9 L898.09,190.9 L899.02,191.8 L899.97,192.8 L900.95,193.7 L901.94,194.6 L902.95,195.5 L903.98,196.3 L905.02,197.0 L906.08,197.7 L907.15,198.4 L908.23,198.9 L909.32,199.4 L910.42,199.9 L911.52,200.2 L912.63,200.5 L913.75,200.6 L914.86,200.7 L915.98,200.7 L917.10,200.5 L918.22,200.3 L919.33,200.0 L920.44,199.5 L921.55,199.1 L922.65,198.5 L923.75,198.0 L924.85,197.4 L925.94,196.8 L927.02,196.2 L928.10,195.5 L929.18,194.9 L930.24,194.3 L931.31,193.6 L932.37,193.0 L933.42,192.3 L934.47,191.6 L935.52,190.9 L936.56,190.2 L937.60,189.5 L938.64,188.8 L939.67,188.1 L940.70,187.4 L941.73,186.7 L942.75,185.9 L943.77,185.2 L944.79,184.5 L945.81,183.7 L946.83,183.0 L947.84,182.2 L948.86,181.4 L949.87,180.7 L950.89,179.9 L951.90,179.1 L952.91,178.3 L953.92,177.6 L954.93,176.8 L955.94,176.0 L956.96,175.2 L957.97,174.4 L958.98,173.6 L960.00,172.8 L961.02,172.0 L962.03,171.2 L963.05,170.4 L964.07,169.6 L965.10,168.8 L966.12,168.0 L967.15,167.2 L968.18,166.4 L969.22,165.6 L970.26,164.8 L971.30,164.1 L972.34,163.3 L973.39,162.6 L974.44,161.9 L975.49,161.2 L976.55,160.5 L977.61,159.8 L978.68,159.1 L979.75,158.5 L980.83,157.9 L981.91,157.3 L983.00,156.7 L984.09,156.2 L985.19,155.7 L986.29,155.2 L987.40,154.7 L988.51,154.3 L989.63,153.9 L990.76,153.5 L991.89,153.2 L993.02,152.9 L994.16,152.7 L995.29,152.5 L996.43,152.3 L997.56,152.2 L998.70,152.1 L999.83,152.1 L1000.95,152.2 L1002.07,152.2 L1003.19,152.4 L1004.30,152.6 L1005.40,152.9 L1006.49,153.2 L1007.57,153.6 L1008.65,154.0 L1009.71,154.6 L1010.76,155.2 L1011.79,155.8 L1012.81,156.6 L1013.82,157.3 L1014.82,158.2 L1015.81,159.1 L1016.78,160.0 L1017.74,161.0 L1018.68,162.0 L1019.61,163.1 L1020.53,164.1 L1021.44,165.2 L1022.34,166.4 L1023.22,167.5 L1024.09,168.6 L1024.94,169.8 L1025.79,171.0 L1026.62,172.1 L1027.44,173.2 L1028.24,174.4 L1029.04,175.5 L1029.83,176.6 L1030.61,177.7 L1031.38,178.9 L1032.16,180.0 L1032.92,181.1 L1033.69,182.2 L1034.46,183.2 L1035.23,184.3 L1036.00,185.4 L1036.78,186.5 L1037.56,187.6 L1038.35,188.6 L1039.14,189.7 L1039.95,190.8 L1040.76,191.8 L1041.58,192.9 L1042.40,193.9 L1043.24,195.0 L1044.08,196.0 L1044.94,197.0 L1045.80,198.0 L1046.67,199.0 L1047.55,200.0 L1048.44,201.0 L1049.34,201.9 L1050.25,202.9 L1051.16,203.8 L1052.09,204.7 L1053.03,205.6 L1053.99,206.4 L1054.95,207.3 L1055.92,208.1 L1056.91,208.9 L1057.90,209.7 L1058.91,210.4 L1059.93,211.1 L1060.96,211.8 L1062.01,212.5 L1063.06,213.2 L1064.12,213.8 L1065.20,214.4 L1066.28,215.0 L1067.37,215.6 L1068.47,216.1 L1069.57,216.7 L1070.68,217.2 L1071.80,217.7 L1072.92,218.2 L1074.04,218.7 L1075.17,219.3 L1076.30,219.7 L1077.43,220.2 L1078.56,220.7 L1079.69,221.2 L1080.83,221.7 L1081.96,222.2 L1083.09,222.8 L1084.22,223.3 L1085.35,223.8 L1086.48,224.3 L1087.60,224.8 L1088.73,225.3 L1089.85,225.8 L1090.98,226.3 L1092.10,226.8 L1093.23,227.3 L1094.35,227.7 L1095.48,228.2 L1096.60,228.6 L1097.73,229.0 L1098.86,229.4 L1099.98,229.8 L1101.11,230.1 L1102.24,230.4 L1103.37,230.7 L1104.50,231.0 L1105.63,231.3 L1106.76,231.5 L1107.90,231.7 L1109.03,231.8 L1110.17,231.9 L1111.31,232.0 L1112.45,232.0 L1113.59,232.0 L1114.74,231.9 L1115.89,231.8 L1117.03,231.7 L1118.19,231.5 L1119.34,231.3 L1120.50,231.1 L1121.65,230.8 L1122.81,230.5 L1123.97,230.2 L1125.13,229.8 L1126.29,229.4 L1127.46,229.1 L1128.62,228.6 L1129.78,228.2 L1130.95,227.8 L1132.11,227.4 L1133.28,226.9 L1134.45,226.5 L1135.61,226.0 L1136.78,225.6 L1137.94,225.1 L1139.11,224.7 L1140.27,224.3 L1141.44,223.8 L1142.60,223.4 L1143.76,223.1 L1144.92,222.7 L1146.08,222.3 L1147.24,222.0 L1148.40,221.7 L1149.56,221.5 L1150.71,221.2 L1151.87,221.0 L1153.02,220.8 L1154.17,220.6 L1155.32,220.4 L1156.47,220.2 L1157.62,220.0 L1158.77,219.9 L1159.92,219.7 L1161.07,219.5 L1162.22,219.3 L1163.36,219.1 L1164.51,218.8 L1165.66,218.6 L1166.81,218.3 L1167.96,218.0 L1169.11,217.7 L1170.26,217.3 L1171.41,217.0 L1172.56,216.5 L1173.71,216.1 L1174.86,215.5 L1176.02,215.0 L1177.17,214.4" fill="none" stroke="#ff0000" stroke-width="5.2" stroke-linejoin="round" stroke-linecap="round"/>
<path transform="scale(1.27,1)" d="M730.43,295.4 L730.97,294.1 L731.51,292.8 L732.04,291.5 L732.57,290.2 L733.09,288.9 L733.61,287.7 L734.13,286.4 L734.64,285.0 L735.15,283.7 L735.66,282.4 L736.16,281.1 L736.66,279.8 L737.16,278.5 L737.65,277.1 L738.14,275.8 L738.63,274.5 L739.11,273.1 L739.59,271.8 L740.07,270.4 L740.55,269.1 L741.02,267.7 L741.50,266.4 L741.96,265.0 L742.43,263.6 L742.90,262.3 L743.36,260.9 L743.82,259.5 L744.28,258.2 L744.73,256.8 L745.19,255.4 L745.64,254.0 L746.09,252.7 L746.54,251.3 L746.99,249.9 L747.44,248.5 L747.89,247.1 L748.33,245.7 L748.78,244.3 L749.22,242.9 L749.66,241.5 L750.10,240.1 L750.54,238.7 L750.98,237.3 L751.42,235.9 L751.86,234.5 L752.30,233.1 L752.74,231.7 L753.17,230.3 L753.61,228.9 L754.05,227.5 L754.49,226.1 L754.92,224.7 L755.36,223.3 L755.80,221.9 L756.24,220.5 L756.68,219.1 L757.11,217.6 L757.55,216.2 L758.00,214.8 L758.44,213.4 L758.88,212.0 L759.32,210.6 L759.77,209.2 L760.21,207.8 L760.66,206.4 L761.11,205.0 L761.55,203.6 L762.00,202.2 L762.46,200.8 L762.91,199.4 L763.37,198.0 L763.82,196.6 L764.28,195.2 L764.74,193.8 L765.21,192.4 L765.67,191.0 L766.14,189.6 L766.61,188.2 L767.08,186.8 L767.56,185.4 L768.03,184.1 L768.51,182.7 L768.99,181.3 L769.48,179.9 L769.97,178.5 L770.46,177.2 L770.95,175.8 L771.45,174.4 L771.95,173.1 L772.46,171.7 L772.96,170.4 L773.47,169.0 L773.99,167.7 L774.51,166.3 L775.03,165.0 L775.55,163.6 L776.08,162.3 L776.62,160.9 L777.15,159.6 L777.70,158.3 L778.24,157.0 L778.79,155.7 L779.35,154.3 L779.91,153.0 L780.47,151.7 L781.04,150.4 L781.61,149.1 L782.19,147.8 L782.77,146.5 L783.36,145.2 L783.95,144.0 L784.55,142.7 L785.16,141.4 L785.76,140.2 L786.38,138.9 L787.00,137.6 L787.62,136.4 L788.25,135.2 L788.89,133.9 L789.53,132.7 L790.18,131.4 L790.84,130.2 L791.50,129.0 L792.17,127.8 L792.84,126.6 L793.52,125.4 L794.20,124.2 L794.90,123.0 L795.60,121.8 L796.30,120.7 L797.01,119.5 L797.73,118.3 L798.46,117.2 L799.19,116.0 L799.93,114.9 L800.68,113.8 L801.44,112.6 L802.20,111.5 L802.97,110.4 L803.75,109.3 L804.53,108.2 L805.33,107.1 L806.13,106.0 L806.94,104.9 L807.75,103.9 L808.58,102.8 L809.41,101.8 L810.25,100.7 L811.10,99.7 L811.96,98.7 L812.82,97.6 L813.70,96.6 L814.58,95.6 L815.47,94.6 L816.38,93.6 L817.29,92.7 L818.20,91.7 L819.13,90.7 L820.07,89.8 L821.02,88.8 L821.97,87.9 L822.94,87.0 L823.91,86.1 L824.89,85.2 L825.88,84.3 L826.88,83.5 L827.88,82.7 L828.89,81.9 L829.91,81.1 L830.94,80.4 L831.97,79.6 L833.01,79.0 L834.06,78.3 L835.11,77.7 L836.17,77.1 L837.24,76.6 L838.31,76.1 L839.38,75.6 L840.47,75.2 L841.55,74.9 L842.64,74.6 L843.74,74.3 L844.84,74.1 L845.94,74.0 L847.05,73.9 L848.16,73.9 L849.28,73.9 L850.39,74.0 L851.51,74.1 L852.64,74.4 L853.77,74.7 L854.89,75.0 L856.02,75.4 L857.15,75.9 L858.28,76.4 L859.41,77.0 L860.54,77.6 L861.67,78.2 L862.79,78.9 L863.92,79.6 L865.03,80.4 L866.15,81.1 L867.26,81.9 L868.36,82.7 L869.46,83.5 L870.55,84.3 L871.64,85.2 L872.71,86.0 L873.78,86.8 L874.84,87.6 L875.89,88.4 L876.93,89.2 L877.97,90.0 L878.99,90.8 L880.01,91.5 L881.01,92.3 L882.01,93.0 L883.01,93.8 L884.00,94.5 L884.98,95.3 L885.96,96.0 L886.93,96.8 L887.90,97.5 L888.87,98.2 L889.83,99.0 L890.79,99.8 L891.75,100.5 L892.71,101.3 L893.66,102.1 L894.62,102.9 L895.57,103.7 L896.53,104.5 L897.49,105.3 L898.44,106.2 L899.40,107.1 L900.37,108.0 L901.33,108.9 L902.30,109.8 L903.27,110.7 L904.24,111.6 L905.22,112.6 L906.19,113.5 L907.18,114.4 L908.16,115.3 L909.15,116.3 L910.15,117.2 L911.15,118.1 L912.15,118.9 L913.16,119.8 L914.17,120.7 L915.19,121.5 L916.21,122.3 L917.24,123.1 L918.27,123.8 L919.31,124.5 L920.35,125.2 L921.40,125.9 L922.46,126.5 L923.53,127.0 L924.60,127.6 L925.68,128.0 L926.76,128.5 L927.85,128.9 L928.95,129.2 L930.06,129.5 L931.17,129.7 L932.28,130.0 L933.41,130.1 L934.53,130.3 L935.67,130.4 L936.81,130.4 L937.95,130.5 L939.10,130.5 L940.25,130.5 L941.40,130.4 L942.56,130.4 L943.72,130.3 L944.89,130.1 L946.05,130.0 L947.23,129.8 L948.40,129.7 L949.57,129.5 L950.75,129.3 L951.93,129.1 L953.11,128.8 L954.29,128.6 L955.47,128.4 L956.65,128.1 L957.83,127.9 L959.02,127.6 L960.20,127.4 L961.38,127.1 L962.56,126.9 L963.74,126.6 L964.92,126.4 L966.10,126.2 L967.28,126.0 L968.46,125.8 L969.64,125.6 L970.81,125.4 L971.99,125.2 L973.16,125.0 L974.34,124.9 L975.51,124.7 L976.69,124.6 L977.86,124.5 L979.03,124.5 L980.20,124.4 L981.37,124.4 L982.54,124.4 L983.71,124.4 L984.87,124.4 L986.04,124.5 L987.21,124.6 L988.37,124.7 L989.54,124.9 L990.70,125.1 L991.86,125.3 L993.02,125.5 L994.17,125.8 L995.32,126.1 L996.47,126.4 L997.61,126.8 L998.74,127.2 L999.87,127.6 L1001.00,128.1 L1002.11,128.6 L1003.22,129.1 L1004.31,129.6 L1005.40,130.2 L1006.48,130.8 L1007.55,131.4 L1008.61,132.0 L1009.65,132.7 L1010.69,133.4 L1011.71,134.2 L1012.71,134.9 L1013.71,135.7 L1014.69,136.5 L1015.65,137.4 L1016.60,138.3 L1017.54,139.2 L1018.47,140.1 L1019.38,141.0 L1020.29,142.0 L1021.18,143.0 L1022.06,144.0 L1022.93,145.0 L1023.80,146.0 L1024.65,147.0 L1025.50,148.1 L1026.33,149.2 L1027.16,150.3 L1027.99,151.4 L1028.80,152.5 L1029.62,153.6 L1030.42,154.7 L1031.22,155.8 L1032.02,156.9 L1032.81,158.1 L1033.60,159.2 L1034.39,160.3 L1035.17,161.5 L1035.95,162.6 L1036.73,163.7 L1037.51,164.9 L1038.29,166.0 L1039.07,167.1 L1039.84,168.2 L1040.62,169.3 L1041.40,170.4 L1042.17,171.5 L1042.95,172.6 L1043.72,173.7 L1044.49,174.8 L1045.26,175.9 L1046.03,177.0 L1046.80,178.1 L1047.56,179.2 L1048.33,180.3 L1049.09,181.5 L1049.85,182.6 L1050.61,183.7 L1051.37,184.8 L1052.13,185.9 L1052.88,187.0 L1053.63,188.2 L1054.38,189.3 L1055.12,190.5 L1055.87,191.6 L1056.61,192.8 L1057.35,193.9 L1058.08,195.1 L1058.82,196.3 L1059.55,197.5 L1060.27,198.7 L1061.00,199.9 L1061.72,201.2 L1062.44,202.4 L1063.16,203.6 L1063.88,204.9 L1064.61,206.1 L1065.33,207.3 L1066.06,208.6 L1066.79,209.8 L1067.52,211.0 L1068.26,212.3 L1069.01,213.5 L1069.76,214.7 L1070.51,215.9 L1071.28,217.1 L1072.05,218.2 L1072.84,219.4 L1073.63,220.5 L1074.43,221.7 L1075.25,222.8 L1076.07,223.9 L1076.91,224.9 L1077.77,226.0 L1078.63,227.0 L1079.52,228.0 L1080.41,228.9 L1081.33,229.9 L1082.26,230.8 L1083.21,231.6 L1084.17,232.5 L1085.15,233.3 L1086.15,234.0 L1087.16,234.8 L1088.18,235.5 L1089.22,236.1 L1090.26,236.8 L1091.32,237.3 L1092.39,237.9 L1093.47,238.4 L1094.56,238.9 L1095.66,239.3 L1096.77,239.7 L1097.88,240.1 L1099.00,240.4 L1100.12,240.7 L1101.25,240.9 L1102.39,241.1 L1103.52,241.2 L1104.66,241.3 L1105.80,241.4 L1106.94,241.4 L1108.09,241.4 L1109.23,241.3 L1110.37,241.2 L1111.51,241.0 L1112.65,240.8 L1113.78,240.5 L1114.91,240.2 L1116.04,239.8 L1117.17,239.4 L1118.30,239.0 L1119.42,238.6 L1120.55,238.1 L1121.67,237.6 L1122.79,237.1 L1123.91,236.5 L1125.03,236.0 L1126.15,235.4 L1127.27,234.8 L1128.39,234.2 L1129.51,233.7 L1130.63,233.1 L1131.75,232.5 L1132.88,232.0 L1134.00,231.4 L1135.13,230.9 L1136.26,230.4 L1137.39,229.9 L1138.52,229.4 L1139.66,229.0 L1140.80,228.6 L1141.94,228.3 L1143.09,227.9 L1144.24,227.7 L1145.39,227.4 L1146.54,227.2 L1147.70,227.1 L1148.86,226.9 L1150.03,226.8 L1151.20,226.8 L1152.37,226.7 L1153.54,226.7 L1154.71,226.7 L1155.89,226.7 L1157.06,226.8 L1158.24,226.8 L1159.42,226.9 L1160.60,227.0 L1161.79,227.0 L1162.97,227.1 L1164.16,227.2 L1165.34,227.3 L1166.53,227.4 L1167.71,227.5 L1168.90,227.6 L1170.08,227.6 L1171.27,227.7 L1172.45,227.8 L1173.64,227.8 L1174.82,227.8 L1176.00,227.8 L1177.19,227.8" fill="none" stroke="#000000" stroke-width="5.5" stroke-linejoin="round" stroke-linecap="round"/>
<line x1="1155.1" y1="8.4" x2="1494.2" y2="8.4" stroke="#000" stroke-width="1.3"/>
<line x1="1155.1" y1="92.9" x2="1494.2" y2="92.9" stroke="#000" stroke-width="1.4"/>
<line x1="1155.1" y1="7.9" x2="1155.1" y2="93.5" stroke="#000" stroke-width="2.0"/>
<line x1="1494.2" y1="7.9" x2="1494.2" y2="93.5" stroke="#000" stroke-width="1.7"/>
<line x1="1172.7" y1="35.75" x2="1241.8" y2="35.75" stroke="#ff0000" stroke-width="5.9" stroke-linecap="round"/>
<line x1="1172.7" y1="65.85" x2="1241.8" y2="65.85" stroke="#000000" stroke-width="5.9" stroke-linecap="round"/>
<text transform="matrix(1.2850,0,0,1,882.06,50.95)" font-family='"Liberation Sans", sans-serif' font-weight="bold" font-size="27.40" fill="#000" >3</text>
<text transform="matrix(1.2850,0,0,1,882.06,118.12)" font-family='"Liberation Sans", sans-serif' font-weight="bold" font-size="27.40" fill="#000" >2</text>
<g transform="matrix(1.2850,0,0,1,882.06,185.37)"><path transform="matrix(27.401,0,0,-27.401,0.00,0)" fill="#000" d="M0.384,0 L0.236,0 L0.236,0.505 C0.185,0.46 0.125,0.432 0.058,0.414 L0.058,0.536 C0.105,0.552 0.16,0.58 0.2,0.615 C0.24,0.65 0.268,0.683 0.282,0.7 L0.384,0.7 Z"/></g>
<text transform="matrix(1.2850,0,0,1,882.06,251.23)" font-family='"Liberation Sans", sans-serif' font-weight="bold" font-size="27.40" fill="#000" >0</text>
<g transform="matrix(1.2850,0,0,1,870.34,318.27)"><text x="0.00" y="0" font-family='"Liberation Sans", sans-serif' font-weight="bold" font-size="27.40" fill="#000">-</text><path transform="matrix(27.401,0,0,-27.401,9.12,0)" fill="#000" d="M0.384,0 L0.236,0 L0.236,0.505 C0.185,0.46 0.125,0.432 0.058,0.414 L0.058,0.536 C0.105,0.552 0.16,0.58 0.2,0.615 C0.24,0.65 0.268,0.683 0.282,0.7 L0.384,0.7 Z"/></g>
<text transform="matrix(1.2850,0,0,1,870.34,384.37)" font-family='"Liberation Sans", sans-serif' font-weight="bold" font-size="27.40" fill="#000" >-2</text>
<text transform="matrix(1.2850,0,0,1,870.34,450.60)" font-family='"Liberation Sans", sans-serif' font-weight="bold" font-size="27.40" fill="#000" >-3</text>
<text transform="matrix(1.2850,0,0,1,898.32,487.63)" font-family='"Liberation Sans", sans-serif' font-weight="bold" font-size="27.68" fill="#000" >250</text>
<text transform="matrix(1.2850,0,0,1,984.22,487.63)" font-family='"Liberation Sans", sans-serif' font-weight="bold" font-size="27.68" fill="#000" >260</text>
<text transform="matrix(1.2850,0,0,1,1071.22,487.63)" font-family='"Liberation Sans", sans-serif' font-weight="bold" font-size="27.68" fill="#000" >270</text>
<text transform="matrix(1.2850,0,0,1,1158.72,487.63)" font-family='"Liberation Sans", sans-serif' font-weight="bold" font-size="27.68" fill="#000" >280</text>
<text transform="matrix(1.2850,0,0,1,1245.52,487.63)" font-family='"Liberation Sans", sans-serif' font-weight="bold" font-size="27.68" fill="#000" >290</text>
<text transform="matrix(1.2850,0,0,1,1332.72,487.63)" font-family='"Liberation Sans", sans-serif' font-weight="bold" font-size="27.68" fill="#000" >300</text>
<g transform="matrix(1.2850,0,0,1,1419.92,487.63)"><text x="0.00" y="0" font-family='"Liberation Sans", sans-serif' font-weight="bold" font-size="27.68" fill="#000">3</text><path transform="matrix(27.684,0,0,-27.684,15.40,0)" fill="#000" d="M0.384,0 L0.236,0 L0.236,0.505 C0.185,0.46 0.125,0.432 0.058,0.414 L0.058,0.536 C0.105,0.552 0.16,0.58 0.2,0.615 C0.24,0.65 0.268,0.683 0.282,0.7 L0.384,0.7 Z"/><text x="30.79" y="0" font-family='"Liberation Sans", sans-serif' font-weight="bold" font-size="27.68" fill="#000">0</text></g>
<text transform="matrix(1.2369,0,0,1,1077.44,535.68)" font-family='"Liberation Sans", sans-serif' font-weight="normal" font-size="28.54" fill="#000" >Wavelength (nm)</text>
<text transform="matrix(1.3407,0,0,1,1256.78,42.78)" font-family='"Liberation Sans", sans-serif' font-weight="bold" font-size="22.47" fill="#000" >Reduced Prdx6</text>
<text transform="matrix(1.3320,0,0,1,1257.57,72.58)" font-family='"Liberation Sans", sans-serif' font-weight="bold" font-size="22.60" fill="#000" >Oxidised Prdx6</text>
<text transform="matrix(0.8246,0,0,1,1423.23,410.60)" font-family='"Liberation Sans", sans-serif' font-weight="bold" font-size="61.05" fill="#000" >B</text>
<text transform="matrix(0,-1.1500,1,0,831.80,345.70)" x="-1.62 18.59 45.94 62.90 67.96 83.96 100.38 112.63 127.58 136.31 158.22 175.25 189.70 205.03" y="0" font-family='"Liberation Sans", sans-serif' font-size="32.00" fill="#000">CDSignal(mdeg)</text>
<line x1="504.4" y1="612.9" x2="1070" y2="612.9" stroke="#000" stroke-width="1.3"/>
<line x1="1070" y1="612.9" x2="1070" y2="1046.5" stroke="#000" stroke-width="1.6"/>
<line x1="504.4" y1="612.3" x2="504.4" y2="1047.4" stroke="#000" stroke-width="2.0"/>
<line x1="495.2" y1="1046.5" x2="1070.8" y2="1046.5" stroke="#000" stroke-width="1.9"/>
<line x1="495.2" y1="1046.3" x2="504.4" y2="1046.3" stroke="#000" stroke-width="1.5"/>
<line x1="495.2" y1="979.55" x2="504.4" y2="979.55" stroke="#000" stroke-width="1.5"/>
<line x1="495.2" y1="912.8" x2="504.4" y2="912.8" stroke="#000" stroke-width="1.5"/>
<line x1="495.2" y1="846.05" x2="504.4" y2="846.05" stroke="#000" stroke-width="1.5"/>
<line x1="495.2" y1="779.3" x2="504.4" y2="779.3" stroke="#000" stroke-width="1.5"/>
<line x1="495.2" y1="712.55" x2="504.4" y2="712.55" stroke="#000" stroke-width="1.5"/>
<line x1="495.2" y1="645.8" x2="504.4" y2="645.8" stroke="#000" stroke-width="1.5"/>
<line x1="544.4" y1="1046.5" x2="544.4" y2="1054.2" stroke="#000" stroke-width="1.6"/>
<line x1="625.2" y1="1046.5" x2="625.2" y2="1054.2" stroke="#000" stroke-width="1.6"/>
<line x1="706" y1="1046.5" x2="706" y2="1054.2" stroke="#000" stroke-width="1.6"/>
<line x1="786.8" y1="1046.5" x2="786.8" y2="1054.2" stroke="#000" stroke-width="1.6"/>
<line x1="867.6" y1="1046.5" x2="867.6" y2="1054.2" stroke="#000" stroke-width="1.6"/>
<line x1="948.4" y1="1046.5" x2="948.4" y2="1054.2" stroke="#000" stroke-width="1.6"/>
<line x1="1029.2" y1="1046.5" x2="1029.2" y2="1054.2" stroke="#000" stroke-width="1.6"/>
<path transform="scale(1.27,1)" d="M395.51,825.6 L399.06,843.0 L402.99,867.5 L402.61,867.0 L403.43,865.9 L404.23,864.8 L405.02,863.7 L405.79,862.6 L406.54,861.4 L407.28,860.3 L408.01,859.1 L408.72,857.9 L409.41,856.7 L410.09,855.5 L410.76,854.3 L411.41,853.0 L412.05,851.8 L412.68,850.6 L413.30,849.3 L413.90,848.0 L414.50,846.7 L415.08,845.5 L415.65,844.2 L416.21,842.8 L416.76,841.5 L417.30,840.2 L417.83,838.9 L418.35,837.5 L418.87,836.2 L419.37,834.8 L419.87,833.5 L420.36,832.1 L420.84,830.7 L421.32,829.4 L421.79,828.0 L422.25,826.6 L422.71,825.2 L423.16,823.8 L423.61,822.4 L424.05,821.0 L424.49,819.6 L424.92,818.2 L425.35,816.8 L425.78,815.3 L426.20,813.9 L426.63,812.5 L427.05,811.1 L427.46,809.6 L427.88,808.2 L428.30,806.8 L428.71,805.3 L429.13,803.9 L429.54,802.5 L429.96,801.1 L430.37,799.6 L430.79,798.2 L431.21,796.8 L431.63,795.3 L432.05,793.9 L432.47,792.5 L432.90,791.1 L433.33,789.6 L433.77,788.2 L434.21,786.8 L434.65,785.4 L435.10,784.0 L435.55,782.6 L436.01,781.2 L436.47,779.8 L436.94,778.4 L437.42,777.0 L437.91,775.6 L438.40,774.3 L438.90,772.9 L439.40,771.5 L439.92,770.2 L440.44,768.8 L440.98,767.5 L441.52,766.2 L442.07,764.8 L442.63,763.5 L443.21,762.2 L443.79,760.9 L444.38,759.6 L444.99,758.3 L445.61,757.0 L446.24,755.8 L446.88,754.5 L447.54,753.3 L448.21,752.0 L448.89,750.8 L449.59,749.6 L450.30,748.4 L451.03,747.2 L451.77,746.0 L452.53,744.9 L453.31,743.7 L454.10,742.6 L454.90,741.5 L455.72,740.4 L456.56,739.3 L457.42,738.2 L458.29,737.2 L459.17,736.2 L460.08,735.2 L460.99,734.3 L461.93,733.4 L462.88,732.5 L463.85,731.7 L464.83,730.9 L465.83,730.2 L466.84,729.5 L467.87,728.9 L468.91,728.3 L469.98,727.8 L471.05,727.3 L472.15,726.9 L473.25,726.6 L474.37,726.3 L475.50,726.1 L476.64,725.9 L477.78,725.8 L478.93,725.8 L480.08,725.7 L481.24,725.8 L482.39,725.8 L483.54,726.0 L484.68,726.1 L485.82,726.3 L486.96,726.6 L488.08,726.9 L489.19,727.2 L490.29,727.5 L491.38,727.9 L492.46,728.4 L493.53,728.8 L494.59,729.3 L495.64,729.8 L496.68,730.4 L497.72,731.0 L498.74,731.6 L499.75,732.2 L500.75,732.9 L501.75,733.6 L502.73,734.3 L503.71,735.1 L504.68,735.9 L505.64,736.7 L506.59,737.5 L507.53,738.4 L508.46,739.3 L509.39,740.2 L510.30,741.1 L511.21,742.0 L512.11,743.0 L513.00,744.0 L513.89,745.0 L514.77,746.0 L515.64,747.1 L516.50,748.1 L517.35,749.2 L518.20,750.3 L519.04,751.4 L519.87,752.5 L520.70,753.6 L521.52,754.8 L522.33,755.9 L523.14,757.1 L523.94,758.3 L524.73,759.5 L525.52,760.7 L526.30,761.9 L527.07,763.1 L527.84,764.3 L528.60,765.6 L529.36,766.8 L530.11,768.0 L530.86,769.3 L531.60,770.5 L532.33,771.8 L533.06,773.0 L533.79,774.3 L534.51,775.5 L535.22,776.8 L535.93,778.1 L536.64,779.3 L537.34,780.6 L538.03,781.8 L538.72,783.1 L539.41,784.4 L540.09,785.6 L540.77,786.9 L541.45,788.2 L542.12,789.4 L542.79,790.7 L543.45,792.0 L544.11,793.2 L544.77,794.5 L545.42,795.7 L546.07,797.0 L546.72,798.3 L547.36,799.5 L548.00,800.8 L548.64,802.1 L549.28,803.4 L549.91,804.6 L550.54,805.9 L551.17,807.2 L551.80,808.4 L552.42,809.7 L553.04,811.0 L553.66,812.2 L554.28,813.5 L554.89,814.8 L555.51,816.0 L556.12,817.3 L556.73,818.6 L557.34,819.8 L557.95,821.1 L558.56,822.4 L559.17,823.6 L559.77,824.9 L560.38,826.2 L560.98,827.4 L561.58,828.7 L562.19,830.0 L562.79,831.2 L563.39,832.5 L563.99,833.8 L564.60,835.0 L565.20,836.3 L565.80,837.6 L566.40,838.8 L567.01,840.1 L567.61,841.4 L568.22,842.6 L568.82,843.9 L569.43,845.1 L570.03,846.4 L570.64,847.7 L571.25,848.9 L571.86,850.2 L572.47,851.4 L573.08,852.7 L573.70,853.9 L574.31,855.2 L574.93,856.4 L575.55,857.7 L576.17,859.0 L576.79,860.2 L577.42,861.5 L578.04,862.7 L578.67,863.9 L579.31,865.2 L579.94,866.4 L580.58,867.7 L581.22,868.9 L581.86,870.2 L582.51,871.4 L583.16,872.6 L583.81,873.9 L584.47,875.1 L585.12,876.4 L585.79,877.6 L586.45,878.8 L587.12,880.1 L587.79,881.3 L588.46,882.5 L589.14,883.7 L589.82,885.0 L590.50,886.2 L591.18,887.4 L591.87,888.6 L592.56,889.8 L593.26,891.1 L593.96,892.3 L594.66,893.5 L595.36,894.7 L596.07,895.9 L596.77,897.1 L597.49,898.3 L598.20,899.5 L598.92,900.7 L599.64,901.9 L600.37,903.1 L601.09,904.3 L601.82,905.5 L602.56,906.6 L603.29,907.8 L604.03,909.0 L604.78,910.2 L605.52,911.4 L606.27,912.5 L607.02,913.7 L607.78,914.9 L608.54,916.0 L609.30,917.2 L610.06,918.3 L610.83,919.5 L611.60,920.6 L612.37,921.8 L613.15,922.9 L613.93,924.1 L614.71,925.2 L615.49,926.3 L616.28,927.5 L617.07,928.6 L617.87,929.7 L618.66,930.8 L619.46,932.0 L620.27,933.1 L621.07,934.2 L621.88,935.3 L622.70,936.4 L623.51,937.5 L624.33,938.6 L625.15,939.7 L625.98,940.7 L626.80,941.8 L627.64,942.9 L628.47,944.0 L629.31,945.0 L630.15,946.1 L630.99,947.1 L631.84,948.2 L632.69,949.3 L633.54,950.3 L634.39,951.3 L635.25,952.4 L636.11,953.4 L636.98,954.4 L637.85,955.5 L638.72,956.5 L639.59,957.5 L640.47,958.5 L641.35,959.5 L642.23,960.5 L643.12,961.5 L644.01,962.5 L644.90,963.4 L645.79,964.4 L646.69,965.4 L647.59,966.4 L648.50,967.3 L649.41,968.3 L650.32,969.2 L651.23,970.2 L652.15,971.1 L653.07,972.0 L653.99,973.0 L654.92,973.9 L655.85,974.8 L656.78,975.7 L657.71,976.6 L658.65,977.5 L659.60,978.4 L660.54,979.3 L661.49,980.2 L662.44,981.0 L663.39,981.9 L664.35,982.8 L665.31,983.6 L666.27,984.5 L667.24,985.3 L668.21,986.2 L669.18,987.0 L670.16,987.8 L671.14,988.6 L672.12,989.4 L673.11,990.2 L674.09,991.0 L675.09,991.8 L676.08,992.6 L677.08,993.4 L678.08,994.2 L679.08,994.9 L680.09,995.7 L681.10,996.4 L682.11,997.2 L683.13,997.9 L684.15,998.6 L685.17,999.4 L686.20,1000.1 L687.23,1000.8 L688.26,1001.5 L689.29,1002.2 L690.33,1002.8 L691.37,1003.5 L692.42,1004.2 L693.47,1004.9 L694.52,1005.5 L695.57,1006.2 L696.63,1006.8 L697.69,1007.4 L698.75,1008.0 L699.82,1008.7 L700.89,1009.3 L701.96,1009.9 L703.04,1010.5 L704.12,1011.0 L705.20,1011.6 L706.28,1012.2 L707.37,1012.7 L708.46,1013.3 L709.56,1013.8 L710.65,1014.4 L711.75,1014.9 L712.86,1015.4 L713.96,1015.9 L715.07,1016.4 L716.18,1016.9 L717.29,1017.4 L718.41,1017.9 L719.53,1018.4 L720.65,1018.8 L721.77,1019.3 L722.90,1019.8 L724.03,1020.2 L725.16,1020.6 L726.29,1021.1 L727.43,1021.5 L728.56,1021.9 L729.70,1022.3 L730.84,1022.7 L731.99,1023.1 L733.13,1023.5 L734.28,1023.9 L735.43,1024.3 L736.58,1024.7 L737.73,1025.1 L738.88,1025.4 L740.04,1025.8 L741.20,1026.1 L742.36,1026.5 L743.52,1026.8 L744.68,1027.2 L745.84,1027.5 L747.01,1027.8 L748.17,1028.1 L749.34,1028.5 L750.51,1028.8 L751.68,1029.1 L752.85,1029.4 L754.02,1029.7 L755.20,1029.9 L756.37,1030.2 L757.55,1030.5 L758.72,1030.8 L759.90,1031.1 L761.08,1031.3 L762.26,1031.6 L763.44,1031.8 L764.62,1032.1 L765.80,1032.3 L766.98,1032.6 L768.16,1032.8 L769.34,1033.1 L770.53,1033.3 L771.71,1033.5 L772.89,1033.7 L774.08,1033.9 L775.26,1034.2 L776.45,1034.4 L777.63,1034.6 L778.82,1034.8 L780.00,1035.0 L781.19,1035.2 L782.37,1035.4 L783.56,1035.6 L784.74,1035.8 L785.93,1035.9 L787.11,1036.1 L788.30,1036.3 L789.48,1036.5 L790.67,1036.7 L791.85,1036.8 L793.03,1037.0 L794.21,1037.2 L795.40,1037.3 L796.58,1037.5 L797.76,1037.6 L798.94,1037.8 L800.12,1037.9 L801.30,1038.1 L802.48,1038.2 L803.65,1038.4 L804.83,1038.5 L806.01,1038.7 L807.18,1038.8 L808.35,1039.0 L809.53,1039.1 L810.70,1039.2 L811.87,1039.4 L813.04,1039.5 L814.20,1039.6 L815.37,1039.8 L816.54,1039.9 L817.70,1040.0 L818.86,1040.1 L820.02,1040.3 L821.18,1040.4 L822.34,1040.5 L823.49,1040.6 L824.65,1040.7 L825.80,1040.9 L826.95,1041.0 L828.10,1041.1 L829.25,1041.2 L830.39,1041.3 L831.54,1041.5 L832.68,1041.6 L833.82,1041.7 L834.96,1041.8 L836.09,1041.9 L837.22,1042.1 L838.35,1042.2 L839.48,1042.3 L840.61,1042.4 L841.73,1042.5 L842.85,1042.6" fill="none" stroke="#ff0000" stroke-width="5.2" stroke-linejoin="round" stroke-linecap="round"/>
<path transform="scale(1.27,1)" d="M396.46,816.0 L400.39,832.0 L403.78,856.0 L404.03,856.2 L404.72,855.0 L405.41,853.7 L406.08,852.5 L406.74,851.2 L407.39,850.0 L408.02,848.7 L408.64,847.4 L409.26,846.1 L409.86,844.9 L410.45,843.6 L411.03,842.3 L411.59,841.0 L412.15,839.6 L412.70,838.3 L413.24,837.0 L413.77,835.7 L414.30,834.4 L414.81,833.0 L415.31,831.7 L415.81,830.3 L416.30,829.0 L416.78,827.7 L417.26,826.3 L417.72,824.9 L418.18,823.6 L418.64,822.2 L419.09,820.8 L419.53,819.5 L419.97,818.1 L420.40,816.7 L420.82,815.3 L421.25,814.0 L421.66,812.6 L422.08,811.2 L422.49,809.8 L422.89,808.4 L423.30,807.0 L423.70,805.6 L424.09,804.2 L424.49,802.8 L424.88,801.4 L425.27,800.0 L425.66,798.6 L426.05,797.2 L426.43,795.8 L426.82,794.4 L427.21,793.0 L427.59,791.5 L427.98,790.1 L428.36,788.7 L428.75,787.3 L429.14,785.9 L429.52,784.5 L429.91,783.1 L430.31,781.7 L430.70,780.2 L431.10,778.8 L431.50,777.4 L431.90,776.0 L432.30,774.6 L432.71,773.2 L433.12,771.8 L433.54,770.4 L433.96,769.0 L434.38,767.6 L434.81,766.2 L435.25,764.8 L435.69,763.3 L436.13,762.0 L436.59,760.6 L437.04,759.2 L437.51,757.8 L437.98,756.4 L438.46,755.0 L438.94,753.6 L439.44,752.2 L439.94,750.8 L440.45,749.5 L440.97,748.1 L441.49,746.7 L442.03,745.3 L442.57,744.0 L443.13,742.6 L443.69,741.3 L444.27,739.9 L444.85,738.6 L445.45,737.2 L446.06,735.9 L446.68,734.5 L447.31,733.2 L447.95,731.9 L448.60,730.5 L449.27,729.2 L449.95,727.9 L450.64,726.6 L451.34,725.4 L452.05,724.1 L452.78,722.8 L453.52,721.6 L454.28,720.4 L455.04,719.2 L455.82,718.0 L456.62,716.8 L457.42,715.7 L458.24,714.6 L459.08,713.5 L459.92,712.4 L460.78,711.4 L461.66,710.4 L462.55,709.4 L463.45,708.5 L464.37,707.6 L465.30,706.7 L466.25,705.9 L467.21,705.1 L468.19,704.3 L469.17,703.6 L470.17,702.9 L471.18,702.3 L472.20,701.7 L473.24,701.1 L474.28,700.6 L475.33,700.1 L476.39,699.7 L477.46,699.3 L478.53,699.0 L479.61,698.7 L480.70,698.5 L481.79,698.3 L482.89,698.1 L483.99,698.1 L485.09,698.0 L486.20,698.0 L487.31,698.1 L488.42,698.2 L489.53,698.3 L490.64,698.5 L491.74,698.7 L492.85,699.0 L493.95,699.3 L495.05,699.6 L496.15,700.0 L497.24,700.4 L498.32,700.9 L499.40,701.4 L500.46,701.9 L501.53,702.5 L502.58,703.1 L503.62,703.8 L504.65,704.5 L505.67,705.2 L506.69,705.9 L507.69,706.7 L508.68,707.5 L509.66,708.4 L510.63,709.2 L511.59,710.1 L512.54,711.0 L513.48,712.0 L514.41,712.9 L515.34,713.9 L516.25,714.9 L517.16,715.9 L518.06,717.0 L518.95,718.0 L519.83,719.1 L520.71,720.2 L521.57,721.3 L522.43,722.4 L523.29,723.5 L524.13,724.6 L524.97,725.7 L525.81,726.9 L526.63,728.0 L527.45,729.1 L528.27,730.3 L529.07,731.4 L529.88,732.6 L530.67,733.7 L531.46,734.9 L532.25,736.1 L533.03,737.2 L533.80,738.4 L534.57,739.6 L535.33,740.7 L536.09,741.9 L536.84,743.1 L537.59,744.3 L538.33,745.5 L539.07,746.7 L539.80,747.9 L540.53,749.0 L541.25,750.2 L541.97,751.4 L542.68,752.6 L543.39,753.9 L544.10,755.1 L544.80,756.3 L545.50,757.5 L546.19,758.7 L546.88,759.9 L547.56,761.1 L548.25,762.4 L548.92,763.6 L549.60,764.8 L550.27,766.1 L550.93,767.3 L551.60,768.5 L552.26,769.8 L552.91,771.0 L553.57,772.2 L554.22,773.5 L554.86,774.7 L555.51,776.0 L556.15,777.2 L556.79,778.5 L557.43,779.7 L558.06,781.0 L558.69,782.2 L559.32,783.5 L559.95,784.8 L560.57,786.0 L561.19,787.3 L561.81,788.5 L562.43,789.8 L563.05,791.1 L563.66,792.3 L564.28,793.6 L564.89,794.9 L565.50,796.2 L566.11,797.4 L566.71,798.7 L567.32,800.0 L567.92,801.3 L568.53,802.5 L569.13,803.8 L569.73,805.1 L570.33,806.4 L570.93,807.7 L571.53,809.0 L572.13,810.2 L572.73,811.5 L573.33,812.8 L573.92,814.1 L574.52,815.4 L575.12,816.7 L575.71,818.0 L576.31,819.2 L576.91,820.5 L577.50,821.8 L578.10,823.1 L578.70,824.4 L579.29,825.7 L579.89,827.0 L580.49,828.3 L581.09,829.6 L581.68,830.9 L582.28,832.1 L582.88,833.4 L583.48,834.7 L584.08,836.0 L584.68,837.3 L585.28,838.6 L585.88,839.9 L586.49,841.2 L587.09,842.5 L587.70,843.8 L588.30,845.0 L588.91,846.3 L589.51,847.6 L590.12,848.9 L590.73,850.2 L591.34,851.5 L591.96,852.8 L592.57,854.0 L593.18,855.3 L593.80,856.6 L594.42,857.9 L595.03,859.2 L595.66,860.4 L596.28,861.7 L596.90,863.0 L597.53,864.3 L598.15,865.5 L598.78,866.8 L599.41,868.1 L600.04,869.3 L600.68,870.6 L601.31,871.9 L601.95,873.1 L602.59,874.4 L603.24,875.6 L603.88,876.9 L604.53,878.2 L605.18,879.4 L605.83,880.7 L606.48,881.9 L607.14,883.2 L607.80,884.4 L608.46,885.6 L609.12,886.9 L609.79,888.1 L610.46,889.4 L611.13,890.6 L611.80,891.8 L612.48,893.0 L613.16,894.3 L613.84,895.5 L614.53,896.7 L615.22,897.9 L615.91,899.1 L616.60,900.4 L617.30,901.6 L618.00,902.8 L618.71,904.0 L619.42,905.2 L620.13,906.4 L620.84,907.6 L621.56,908.8 L622.28,909.9 L623.01,911.1 L623.74,912.3 L624.47,913.5 L625.21,914.7 L625.95,915.8 L626.69,917.0 L627.44,918.2 L628.19,919.3 L628.95,920.5 L629.71,921.6 L630.47,922.8 L631.24,923.9 L632.01,925.0 L632.78,926.2 L633.56,927.3 L634.34,928.4 L635.13,929.6 L635.92,930.7 L636.71,931.8 L637.51,932.9 L638.31,934.0 L639.12,935.1 L639.93,936.2 L640.74,937.3 L641.56,938.4 L642.38,939.5 L643.20,940.6 L644.03,941.6 L644.86,942.7 L645.69,943.8 L646.53,944.8 L647.37,945.9 L648.22,946.9 L649.07,948.0 L649.92,949.0 L650.78,950.1 L651.64,951.1 L652.50,952.1 L653.37,953.1 L654.24,954.2 L655.11,955.2 L655.99,956.2 L656.87,957.2 L657.76,958.2 L658.65,959.2 L659.54,960.2 L660.43,961.1 L661.33,962.1 L662.24,963.1 L663.14,964.0 L664.05,965.0 L664.96,966.0 L665.88,966.9 L666.80,967.8 L667.72,968.8 L668.65,969.7 L669.58,970.6 L670.51,971.5 L671.45,972.5 L672.39,973.4 L673.33,974.3 L674.28,975.2 L675.23,976.0 L676.18,976.9 L677.14,977.8 L678.10,978.7 L679.06,979.5 L680.03,980.4 L680.99,981.2 L681.97,982.1 L682.94,982.9 L683.92,983.7 L684.90,984.6 L685.89,985.4 L686.88,986.2 L687.87,987.0 L688.87,987.8 L689.86,988.6 L690.87,989.4 L691.87,990.1 L692.88,990.9 L693.89,991.7 L694.90,992.4 L695.92,993.2 L696.94,993.9 L697.96,994.6 L698.99,995.4 L700.02,996.1 L701.05,996.8 L702.08,997.5 L703.12,998.2 L704.16,998.9 L705.20,999.6 L706.25,1000.3 L707.30,1001.0 L708.35,1001.6 L709.40,1002.3 L710.46,1002.9 L711.52,1003.6 L712.58,1004.2 L713.65,1004.9 L714.71,1005.5 L715.78,1006.1 L716.85,1006.7 L717.93,1007.3 L719.00,1007.9 L720.08,1008.5 L721.17,1009.1 L722.25,1009.7 L723.34,1010.3 L724.42,1010.8 L725.51,1011.4 L726.61,1012.0 L727.70,1012.5 L728.80,1013.1 L729.90,1013.6 L731.00,1014.1 L732.10,1014.7 L733.21,1015.2 L734.32,1015.7 L735.42,1016.2 L736.54,1016.7 L737.65,1017.2 L738.76,1017.7 L739.88,1018.2 L741.00,1018.6 L742.12,1019.1 L743.24,1019.6 L744.37,1020.0 L745.49,1020.5 L746.62,1020.9 L747.75,1021.4 L748.88,1021.8 L750.01,1022.2 L751.15,1022.6 L752.28,1023.1 L753.42,1023.5 L754.56,1023.9 L755.70,1024.3 L756.84,1024.7 L757.98,1025.1 L759.13,1025.4 L760.27,1025.8 L761.42,1026.2 L762.57,1026.5 L763.72,1026.9 L764.87,1027.2 L766.02,1027.6 L767.17,1027.9 L768.33,1028.3 L769.48,1028.6 L770.64,1028.9 L771.80,1029.2 L772.95,1029.6 L774.11,1029.9 L775.27,1030.2 L776.43,1030.5 L777.60,1030.7 L778.76,1031.0 L779.92,1031.3 L781.09,1031.6 L782.25,1031.9 L783.42,1032.1 L784.59,1032.4 L785.76,1032.6 L786.92,1032.9 L788.09,1033.1 L789.26,1033.3 L790.43,1033.6 L791.60,1033.8 L792.78,1034.0 L793.95,1034.2 L795.12,1034.4 L796.29,1034.7 L797.47,1034.8 L798.64,1035.0 L799.81,1035.2 L800.99,1035.4 L802.16,1035.6 L803.34,1035.8 L804.51,1035.9 L805.69,1036.1 L806.86,1036.3 L808.04,1036.4 L809.21,1036.6 L810.39,1036.7 L811.57,1036.8 L812.74,1037.0 L813.92,1037.1 L815.09,1037.2 L816.27,1037.3 L817.45,1037.4 L818.62,1037.6 L819.80,1037.7 L820.97,1037.8 L822.15,1037.9 L823.32,1037.9 L824.50,1038.0 L825.67,1038.1 L826.85,1038.2 L828.02,1038.2 L829.20,1038.3 L830.37,1038.4 L831.54,1038.4 L832.71,1038.5 L833.89,1038.5 L835.06,1038.6 L836.23,1038.6 L837.40,1038.6 L838.57,1038.7 L839.74,1038.7 L840.91,1038.7 L842.07,1038.7 L843.24,1038.7" fill="none" stroke="#000000" stroke-width="5.3" stroke-linejoin="round" stroke-linecap="round"/>
<line x1="728.6" y1="612.8" x2="1070" y2="612.8" stroke="#000" stroke-width="1.3"/>
<line x1="728.6" y1="698" x2="1070" y2="698" stroke="#000" stroke-width="1.4"/>
<line x1="728.6" y1="612.3" x2="728.6" y2="698.6" stroke="#000" stroke-width="2.0"/>
<line x1="1070" y1="612.3" x2="1070" y2="698.6" stroke="#000" stroke-width="1.7"/>
<line x1="745.8" y1="641.4" x2="815.2" y2="641.4" stroke="#ff0000" stroke-width="6.0" stroke-linecap="round"/>
<line x1="745.8" y1="671.0" x2="815.2" y2="671.0" stroke="#000000" stroke-width="6.0" stroke-linecap="round"/>
<text transform="matrix(1.2850,0,0,1,458.46,1055.93)" font-family='"Liberation Sans", sans-serif' font-weight="bold" font-size="27.40" fill="#000" >0</text>
<g transform="matrix(1.2850,0,0,1,419.30,988.68)"><path transform="matrix(27.401,0,0,-27.401,0.00,0)" fill="#000" d="M0.384,0 L0.236,0 L0.236,0.505 C0.185,0.46 0.125,0.432 0.058,0.414 L0.058,0.536 C0.105,0.552 0.16,0.58 0.2,0.615 C0.24,0.65 0.268,0.683 0.282,0.7 L0.384,0.7 Z"/><text x="15.24" y="0" font-family='"Liberation Sans", sans-serif' font-weight="bold" font-size="27.40" fill="#000">00</text></g>
<text transform="matrix(1.2850,0,0,1,419.30,922.73)" font-family='"Liberation Sans", sans-serif' font-weight="bold" font-size="27.40" fill="#000" >200</text>
<text transform="matrix(1.2850,0,0,1,419.30,854.90)" font-family='"Liberation Sans", sans-serif' font-weight="bold" font-size="27.40" fill="#000" >300</text>
<text transform="matrix(1.2850,0,0,1,419.30,788.23)" font-family='"Liberation Sans", sans-serif' font-weight="bold" font-size="27.40" fill="#000" >400</text>
<text transform="matrix(1.2850,0,0,1,419.30,722.03)" font-family='"Liberation Sans", sans-serif' font-weight="bold" font-size="27.40" fill="#000" >500</text>
<text transform="matrix(1.2850,0,0,1,419.30,655.53)" font-family='"Liberation Sans", sans-serif' font-weight="bold" font-size="27.40" fill="#000" >600</text>
<text transform="matrix(1.2850,0,0,1,514.73,1091.73)" font-family='"Liberation Sans", sans-serif' font-weight="bold" font-size="27.40" fill="#000" >320</text>
<text transform="matrix(1.2850,0,0,1,595.53,1091.73)" font-family='"Liberation Sans", sans-serif' font-weight="bold" font-size="27.40" fill="#000" >340</text>
<text transform="matrix(1.2850,0,0,1,676.33,1091.73)" font-family='"Liberation Sans", sans-serif' font-weight="bold" font-size="27.40" fill="#000" >360</text>
<text transform="matrix(1.2850,0,0,1,757.13,1091.73)" font-family='"Liberation Sans", sans-serif' font-weight="bold" font-size="27.40" fill="#000" >380</text>
<text transform="matrix(1.2850,0,0,1,837.93,1091.73)" font-family='"Liberation Sans", sans-serif' font-weight="bold" font-size="27.40" fill="#000" >400</text>
<text transform="matrix(1.2850,0,0,1,918.73,1091.73)" font-family='"Liberation Sans", sans-serif' font-weight="bold" font-size="27.40" fill="#000" >420</text>
<text transform="matrix(1.2850,0,0,1,999.53,1091.73)" font-family='"Liberation Sans", sans-serif' font-weight="bold" font-size="27.40" fill="#000" >440</text>
<text transform="matrix(1.2683,0,0,1,653.84,1140.21)" font-family='"Liberation Sans", sans-serif' font-weight="normal" font-size="27.89" fill="#000" >Wavelength (nm)</text>
<text transform="matrix(1.3053,0,0,1,830.49,648.78)" font-family='"Liberation Sans", sans-serif' font-weight="bold" font-size="23.01" fill="#000" >Reduced Prdx6</text>
<text transform="matrix(1.3001,0,0,1,831.27,678.17)" font-family='"Liberation Sans", sans-serif' font-weight="bold" font-size="23.15" fill="#000" >Oxidised Prdx6</text>
<text transform="matrix(0,-1.2200,1,0,380.00,1019.80)" x="-2.65 17.09 17.90 30.20 46.30 55.10 68.86 81.74 92.73 106.46 121.41 133.87 155.79 161.54 177.38 183.63 194.41 210.41 222.84 226.81 235.66 256.03 265.76 280.17 283.23 298.36 306.78" y="0" font-family='"Liberation Sans", sans-serif' font-size="32.30" fill="#000">FluorescenceIntensity(a.u.)</text>
<path fill="#000" d="M1038.3,956.4 C1034.6,954.2 1030.2,953.3 1025.6,953.3 C1014.2,953.3 1007,962.2 1007,975.6 C1007,989.4 1014.4,997.7 1025.6,997.7 C1030.6,997.7 1035.1,996.6 1038.3,994.7 L1038.3,987.8 C1035.4,989.9 1031.8,991.5 1027.6,991.5 C1020.2,991.5 1016.1,985.2 1016.1,975.6 C1016.1,966.2 1020.4,959.9 1027.4,959.9 C1031.6,959.9 1035.4,961.4 1038.3,963.7 Z"/>
</svg></body></html>
